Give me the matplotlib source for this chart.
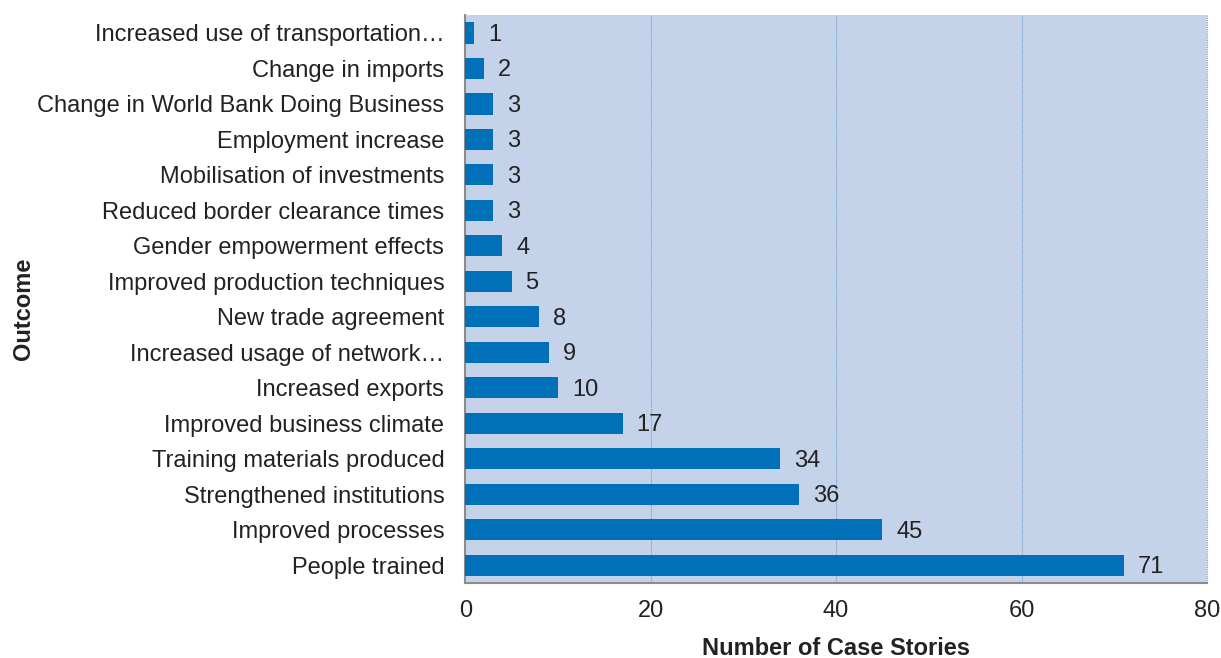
import matplotlib.pyplot as plt

plt.rcParams['font.family'] = ['Liberation Sans', 'DejaVu Sans']

outcomes = ['People trained', 'Improved processes', 'Strengthened institutions',
            'Training materials produced', 'Improved business climate',
            'Increased exports', 'Increased usage of network\u2026',
            'New trade agreement', 'Improved production techniques',
            'Gender empowerment effects', 'Reduced border clearance times',
            'Mobilisation of investments', 'Employment increase',
            'Change in World Bank Doing Business', 'Change in imports',
            'Increased use of transportation\u2026']
counts = [71, 45, 36, 34, 17, 10, 9, 8, 5, 4, 3, 3, 3, 3, 2, 1]
xticks = [0, 20, 40, 60, 80]

bar_color = '#0070b8'
bg_color = '#c5d3ea'
txt_color = '#222222'
fs = 17

fig, ax = plt.subplots(figsize=(12.21, 6.58), dpi=100)
fig.subplots_adjust(left=0.381, right=0.9885, top=0.977, bottom=0.114)
ax.set_facecolor(bg_color)

ypos = range(len(outcomes))
ax.barh(ypos, counts, height=0.6, color=bar_color, zorder=3)
for y, v in zip(ypos, counts):
    ax.annotate(str(v), xy=(v, y), xytext=(10, -1.5), textcoords='offset points',
                va='center', ha='left', fontsize=fs, color=txt_color, zorder=4)

ax.set_xlim(0, 80)
ax.set_ylim(-0.5, len(outcomes) - 0.5)
ax.set_xticks(xticks)
ax.set_yticks(list(ypos))
ax.set_yticklabels(outcomes)
ax.tick_params(axis='both', length=0, labelsize=fs, colors=txt_color)
ax.tick_params(axis='x', pad=12)
ax.tick_params(axis='y', pad=15)

# dotted vertical grid at the major ticks
for xv in xticks[1:]:
    ax.axvline(xv, color='#6fa0d0', lw=0.8, ls=(0, (1, 1)), zorder=1, clip_on=False)

for side in ['top', 'right']:
    ax.spines[side].set_visible(False)
ax.spines['left'].set_color('#8c8c8c')
ax.spines['bottom'].set_color('#8c8c8c')
ax.spines['left'].set_linewidth(1.5)
ax.spines['bottom'].set_linewidth(1.5)

ax.set_xlabel('Number of Case Stories', fontsize=fs, fontweight='bold', labelpad=11, color=txt_color)
fig.text(0.019, 0.53, 'Outcome', rotation=90, ha='center', va='center',
         fontsize=fs, fontweight='bold', color=txt_color)

fig.savefig('out.png', dpi=100)
